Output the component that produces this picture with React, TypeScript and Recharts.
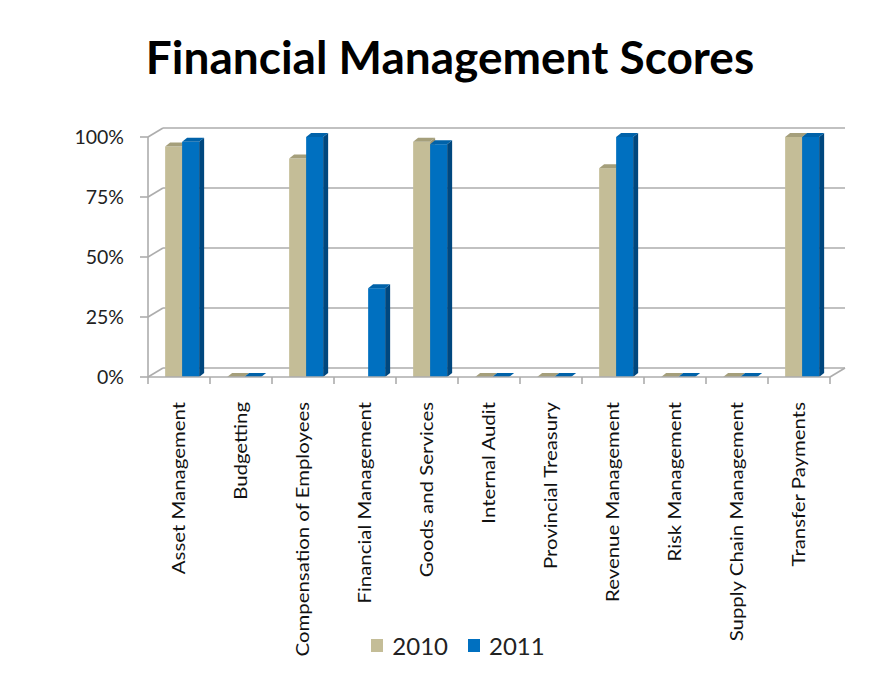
import React from "react";
import { BarChart, Bar, XAxis, YAxis, CartesianGrid, Legend } from "recharts";

const categories = [
  "Asset Management",
  "Budgetting",
  "Compensation of Employees",
  "Financial Management",
  "Goods and Services",
  "Internal Audit",
  "Provincial Treasury",
  "Revenue Management",
  "Risk Management",
  "Supply Chain Management",
  "Transfer Payments",
];
// no 2010 score for Financial Management
const scores2010 = [0.96, 0, 0.91, null, 0.98, 0, 0, 0.87, 0, 0, 1];
const scores2011 = [0.98, 0, 1, 0.37, 0.97, 0, 0, 1, 0, 0, 1];
const yTicks = [0, 0.25, 0.5, 0.75, 1];

const data = categories.map((name, i) => ({
  name,
  y2010: scores2010[i],
  y2011: scores2011[i],
}));

const W = 880;
const H = 664;
const TOP = 129;
const PLOT_H = 240;
const FONT = "Lato, 'Open Sans', sans-serif";
const GRID = "#adadad";

// wall depth for the fake 3d frame
const DX = 15;
const DY = -9;

const make3dBar = (front: string, top: string, side: string) => (props: any) => {
  const { x, y, width, height, value } = props;
  if (value == null) return <g />;
  const bx = x + 3.5;
  const d = 5;
  const up = 4;
  return (
    <g>
      <rect x={bx} y={y} width={width} height={height} fill={front} />
      <polygon
        points={`${bx + width},${y} ${bx + width + d},${y - up} ${bx + width + d},${y + height - up} ${bx + width},${y + height}`}
        fill={side}
      />
      <polygon
        points={`${bx},${y} ${bx + d},${y - up} ${bx + width + d},${y - up} ${bx + width},${y}`}
        fill={top}
      />
    </g>
  );
};

const Bar2010 = make3dBar("#C4BD97", "#a59f7b", "#9b9571");
const Bar2011 = make3dBar("#0070C0", "#0062a9", "#00477e");

const gridLine = (props: any) => {
  const { x1, x2, y1 } = props;
  const isFloor = Math.abs(y1 - (TOP + PLOT_H)) < 1;
  return (
    <g key={props.key}>
      <line x1={x1 + DX} x2={x2 + DX} y1={y1 + DY} y2={y1 + DY} stroke={GRID} strokeWidth={1.6} />
      <line x1={x1} x2={x1 + DX} y1={y1} y2={y1 + DY} stroke={GRID} strokeWidth={1.6} />
      {isFloor && (
        <line x1={x2} x2={x2 + DX} y1={y1} y2={y1 + DY} stroke={GRID} strokeWidth={1.6} />
      )}
    </g>
  );
};

const CategoryTick = (props: any) => {
  const { x, y, payload } = props;
  const half = payload.offset || 31;
  return (
    <g>
      <line x1={x - half} x2={x - half} y1={y - 8} y2={y - 1} stroke={GRID} strokeWidth={1.6} />
      {payload.index === categories.length - 1 && (
        <line x1={x + half} x2={x + half} y1={y - 8} y2={y - 1} stroke={GRID} strokeWidth={1.6} />
      )}
      <text
        transform={`translate(${x},${y + 17}) rotate(-90) scale(1.2,1)`}
        textAnchor="end"
        dy="0.36em"
        fontSize={17}
        fontFamily={FONT}
        fill="#111"
      >
        {payload.value}
      </text>
    </g>
  );
};

const LegendBox = () => (
  <div style={{ display: "flex", justifyContent: "center", fontFamily: FONT, fontSize: 24, color: "#222", paddingLeft: 40 }}>
    {[
      ["2010", "#C4BD97"],
      ["2011", "#0070C0"],
    ].map(([label, c]) => (
      <span key={label} style={{ display: "flex", alignItems: "center", marginRight: 20 }}>
        <span style={{ width: 12, height: 13, background: c, display: "inline-block", marginRight: 9 }} />
        {label}
      </span>
    ))}
  </div>
);

export default function App() {
  return (
    <div
      style={{
        position: "relative",
        margin: "-1px 0 0 -1px",
        width: W,
        height: H,
        borderTop: "1px solid #c0c0c0",
        borderLeft: "1px solid #c0c0c0",
        background: "#fff",
      }}
    >
      <div
        style={{
          position: "absolute",
          top: 21,
          left: 0,
          width: W,
          paddingLeft: 2,
          textAlign: "center",
          fontFamily: FONT,
          fontWeight: 700,
          fontSize: 46,
          color: "#000",
        }}
      >
        Financial Management Scores
      </div>
      <BarChart
        width={W}
        height={H}
        data={data}
        margin={{ top: TOP, right: 58, left: 80, bottom: 45 }}
        barCategoryGap="22%"
        barGap={0}
      >
        <CartesianGrid vertical={false} horizontal={gridLine} />
        <XAxis
          dataKey="name"
          height={250}
          interval={0}
          tickLine={false}
          axisLine={{ stroke: GRID, strokeWidth: 1.6 }}
          tick={<CategoryTick />}
        />
        <YAxis
          width={60}
          domain={[0, 1]}
          ticks={yTicks}
          tickFormatter={(v: number) => `${Math.round(v * 100)}%`}
          tickSize={8}
          tickMargin={16}
          axisLine={{ stroke: GRID, strokeWidth: 1.6 }}
          tickLine={{ stroke: GRID, strokeWidth: 1.6 }}
          tick={{ fill: "#222", fontSize: 19.5, fontFamily: FONT }}
        />
        <Legend
          layout="horizontal"
          verticalAlign="middle"
          align="center"
          wrapperStyle={{ top: 623, left: 0, width: W }}
          content={<LegendBox />}
        />
        <Bar dataKey="y2010" name="2010" fill="#C4BD97" shape={Bar2010} isAnimationActive={false} />
        <Bar dataKey="y2011" name="2011" fill="#0070C0" shape={Bar2011} isAnimationActive={false} />
      </BarChart>
    </div>
  );
}
